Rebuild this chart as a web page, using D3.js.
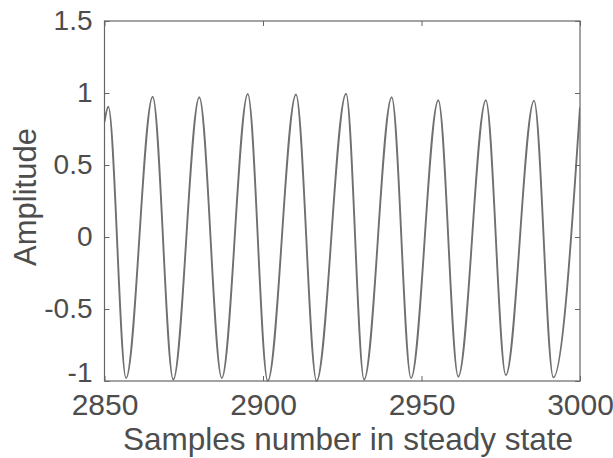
<!DOCTYPE html>
<html><head><meta charset="utf-8">
<script src="https://cdn.jsdelivr.net/npm/d3@7"></script>
<style>body{margin:0;background:#fff}svg{display:block}text{font-family:"Liberation Sans",Arial,sans-serif;fill:#4d4d4d}</style>
</head><body><svg id="c" width="613" height="458"></svg>
<script>
// Key points: start, alternating peaks/troughs, end
const samples = [2850, 2851.2, 2856.8, 2865.2, 2871.7, 2879.9, 2887.0, 2895.2, 2901.5, 2910.4, 2916.9, 2926.2, 2931.9, 2940.6, 2946.7, 2955.3, 2961.6, 2970.3, 2976.6, 2985.5, 2991.6, 3000];
const amplitude = [0.80, 0.905, -0.98, 0.974, -0.99, 0.97, -0.98, 0.993, -1.0, 0.99, -1.0, 0.995, -0.99, 0.97, -0.98, 0.95, -0.97, 0.95, -0.96, 0.947, -0.975, 0.90];
const xTicks = [2850, 2900, 2950, 3000];
const yTicks = [-1, -0.5, 0, 0.5, 1, 1.5];
const xLabel = "Samples number in steady state";
const yLabel = "Amplitude";

const svg = d3.select("#c");
const m = {l:104.5, r:580, t:21, b:381};
const x = d3.scaleLinear().domain([2850, 3000]).range([m.l, m.r]);
const y = d3.scaleLinear().domain([-1, 1.5]).range([m.b, m.t]);

const data = samples.map((s, i) => ({s, v: amplitude[i]}));
const line = d3.line().x(d => x(d.s)).y(d => y(d.v)).curve(d3.curveMonotoneX);

svg.append("defs").append("clipPath").attr("id","cp")
  .append("rect").attr("x", m.l).attr("y", m.t).attr("width", m.r-m.l).attr("height", m.b-m.t+1);

svg.append("path").datum(data).attr("d", line).attr("clip-path","url(#cp)")
  .attr("fill","none").attr("stroke","#707070").attr("stroke-width",1.9);

const axCol = "#666";
svg.append("rect").attr("x", m.l).attr("y", m.t).attr("width", m.r-m.l).attr("height", m.b-m.t)
  .attr("fill","none").attr("stroke",axCol).attr("stroke-width",1.2);

const gx = svg.append("g").attr("transform",`translate(0,${m.b})`)
  .call(d3.axisBottom(x).tickValues(xTicks).tickSize(-5).tickPadding(12.5).tickFormat(d3.format("d")));
const gx2 = svg.append("g").attr("transform",`translate(0,${m.t})`)
  .call(d3.axisTop(x).tickValues(xTicks).tickSize(-5).tickFormat(""));
const gy = svg.append("g").attr("transform",`translate(${m.l},0)`)
  .call(d3.axisLeft(y).tickValues(yTicks).tickSize(-5).tickPadding(12).tickFormat(d => String(d)));
const gy2 = svg.append("g").attr("transform",`translate(${m.r},0)`)
  .call(d3.axisRight(y).tickValues(yTicks).tickSize(-5).tickFormat(""));
[gx,gx2,gy,gy2].forEach(g => {
  g.select(".domain").remove();
  g.selectAll(".tick line").attr("stroke", axCol).attr("stroke-width",1);
  g.selectAll("text").attr("font-size", 28).attr("fill","#4d4d4d").attr("font-family","Liberation Sans, Arial, sans-serif");
});
gx.selectAll("text").attr("dy","0.72em").attr("font-size",30);
gy.selectAll(".tick").filter(d => d === -1).select("text").attr("dy","0.02em");

svg.append("text").attr("x", 348).attr("y", 450).attr("text-anchor","middle")
  .attr("font-size", 31.5).text(xLabel);
svg.append("text").attr("transform",`translate(36,197) rotate(-90)`).attr("text-anchor","middle")
  .attr("font-size", 31).text(yLabel);
</script></body></html>
